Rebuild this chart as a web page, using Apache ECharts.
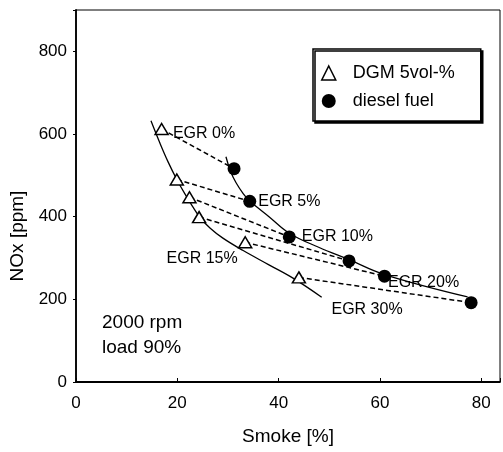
<!DOCTYPE html>
<html>
<head>
<meta charset="utf-8">
<script src="https://cdn.jsdelivr.net/npm/echarts@6/dist/echarts.min.js"></script>
<style>html,body{margin:0;padding:0;background:#fff}#c{width:503px;height:452px}</style>
</head>
<body>
<div id="c"></div>
<script>
// ---- data ----
const smokeDGM = [16.9, 19.9, 22.4, 24.3, 33.4, 44.0];
const noxDGM = [612, 490, 447, 399, 338, 253];
const smokeDiesel = [31.2, 34.3, 42.1, 53.9, 60.9, 78.0];
const noxDiesel = [516, 437, 351, 293, 256, 192];
const egrLabels = ['EGR 0%', 'EGR 5%', 'EGR 10%', 'EGR 15%', 'EGR 20%', 'EGR 30%'];
const dgmCurveSmoke = [14.8, 16.5, 18.2, 19.9, 21.5, 23.0, 24.5, 26.5, 29.0, 33.0, 38.0, 43.0, 48.5];
const dgmCurveNox = [632, 580, 532, 490, 455, 425, 398, 372, 348, 318, 284, 250, 205];
const dieselCurveSmoke = [29.6, 30.5, 31.6, 33.0, 34.3, 38.1, 42.1, 47.9, 53.9, 60.9, 77.3];
const dieselCurveNox = [545, 510, 482, 456, 438, 400, 360, 326, 296, 260, 206];
const xTicks = [0, 20, 40, 60, 80];
const yTicks = [0, 200, 400, 600, 800];
const seriesNames = ['DGM 5vol-%', 'diesel fuel'];
const annotation = ['2000 rpm', 'load 90%'];

// label placement (style only)
const labelPlacement = [
  {on: 'dgm', position: 'right', distance: 4, offset: [0, 5]},
  {on: 'diesel', position: 'right', distance: 2, offset: [0, 0]},
  {on: 'diesel', position: 'right', distance: 6, offset: [0, 0]},
  {on: 'dgm', position: 'bottom', distance: 27, offset: [3, 0]},
  {on: 'diesel', position: 'right', distance: -3, offset: [0, 6]},
  {on: 'diesel', position: 'left', distance: 62, offset: [0, 7]}
];

const FONT = "'Liberation Sans', Arial, sans-serif";
const zip = (a, b) => a.map((v, i) => [v, b[i]]);

function pointsWithLabels(xs, ys, kind) {
  return xs.map((x, i) => {
    const p = labelPlacement[i];
    const item = {value: [x, ys[i]]};
    if (p.on === kind) {
      item.label = {
        show: true, formatter: egrLabels[i], position: p.position, distance: p.distance,
        offset: p.offset, fontSize: 16, color: '#000', fontFamily: FONT
      };
    }
    return item;
  });
}

const dashedSeries = smokeDGM.map((x, i) => ({
  type: 'line', silent: true, symbol: 'none', z: 2,
  data: [[x, noxDGM[i]], [smokeDiesel[i], noxDiesel[i]]],
  lineStyle: {color: '#000', width: 1.5, type: [5, 3]}
}));

const chart = echarts.init(document.getElementById('c'), null, {renderer: 'canvas'});
chart.setOption({
  animation: false,
  backgroundColor: '#fff',
  textStyle: {fontFamily: FONT},
  grid: {left: 76, right: 1, top: 10, bottom: 70, show: true, borderColor: '#000', borderWidth: 1, backgroundColor: 'transparent'},
  xAxis: {
    type: 'value', min: 0, max: 83.7, interval: 20,
    name: 'Smoke [%]', nameLocation: 'middle', nameGap: 45,
    nameTextStyle: {fontSize: 19, color: '#000', fontFamily: FONT},
    axisLine: {show: true, lineStyle: {color: '#000', width: 1.8}},
    axisTick: {show: true, inside: true, length: 4, lineStyle: {color: '#000'}},
    axisLabel: {fontSize: 17, color: '#000', margin: 13, fontFamily: FONT,
      formatter: v => xTicks.includes(v) ? String(v) : ''},
    splitLine: {show: false}
  },
  yAxis: {
    type: 'value', min: 0, max: 900, interval: 200,
    name: 'NOx [ppm]', nameLocation: 'middle', nameGap: 42,
    nameTextStyle: {fontSize: 19, color: '#000', fontFamily: FONT, padding: [0, 80, 0, 0]},
    axisLine: {show: true, lineStyle: {color: '#000', width: 1.8}},
    axisTick: {show: true, inside: false, length: 3, lineStyle: {color: '#000'}},
    axisLabel: {fontSize: 17, color: '#000', margin: 9, fontFamily: FONT,
      formatter: v => yTicks.includes(v) ? String(v) : ''},
    splitLine: {show: false}
  },
  legend: {
    orient: 'vertical', left: 313, top: 49,
    backgroundColor: '#fff', borderColor: '#000', borderWidth: 1.5,
    shadowColor: '#000', shadowBlur: 0, shadowOffsetX: 2, shadowOffsetY: 2,
    padding: [14, 26, 10, 8], itemGap: 8, itemWidth: 14, itemHeight: 14,
    textStyle: {fontSize: 18, color: '#000', fontFamily: FONT, lineHeight: 20, padding: [0, 0, 0, 12]},
    data: [
      {name: seriesNames[0], icon: 'triangle', itemStyle: {color: '#fff', borderColor: '#000', borderWidth: 1.5}},
      {name: seriesNames[1], icon: 'circle', itemStyle: {color: '#000'}}
    ]
  },
  graphic: [{
    type: 'text', left: 102, top: 310, z: 10,
    style: {text: annotation.join('\n'), fontSize: 19, lineHeight: 25, fill: '#000', fontFamily: FONT}
  }],
  series: [
    {type: 'line', silent: true, symbol: 'none', smooth: 0.4, z: 2,
      data: zip(dgmCurveSmoke, dgmCurveNox), lineStyle: {color: '#000', width: 1.3}},
    {type: 'line', silent: true, symbol: 'none', smooth: 0.4, z: 2,
      data: zip(dieselCurveSmoke, dieselCurveNox), lineStyle: {color: '#000', width: 1.3}},
    ...dashedSeries,
    {name: seriesNames[0], type: 'scatter', z: 5, symbol: 'triangle', symbolSize: [13, 11],
      itemStyle: {color: '#fff', borderColor: '#000', borderWidth: 1.5, opacity: 1},
      data: pointsWithLabels(smokeDGM, noxDGM, 'dgm')},
    {name: seriesNames[1], type: 'scatter', z: 5, symbol: 'circle', symbolSize: 13,
      itemStyle: {color: '#000', opacity: 1},
      data: pointsWithLabels(smokeDiesel, noxDiesel, 'diesel')}
  ]
});
</script>
</body>
</html>
